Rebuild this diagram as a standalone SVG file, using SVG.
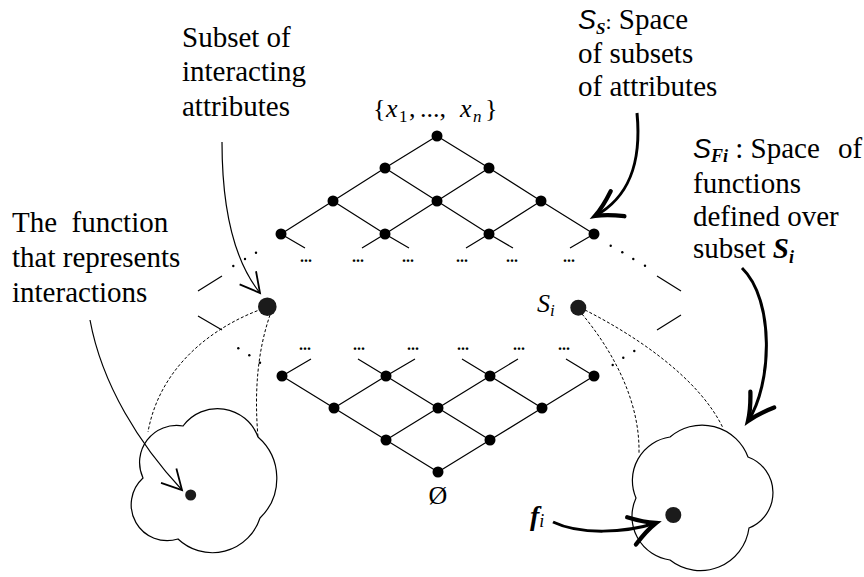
<svg xmlns="http://www.w3.org/2000/svg" width="864" height="577" viewBox="0 0 864 577">
<defs>
<style>
.t{fill:#000}
.L{font-size:29px}
.e{stroke:#000;stroke-width:1.2;fill:none}
.n{fill:#000}
.d{stroke:#000;stroke-width:1;fill:none;stroke-dasharray:3,2}
.thin{stroke:#000;stroke-width:1.2;fill:none}
.thick{stroke:#000;stroke-width:3;fill:none}
.cloud{stroke:#000;stroke-width:1.2;fill:#fff}
.dots{font-size:16px;font-weight:bold;text-anchor:middle}
</style>
<marker id="ah" markerUnits="userSpaceOnUse" markerWidth="30" markerHeight="30" refX="0" refY="0" viewBox="-16 -10 20 20" orient="auto" overflow="visible">
<path d="M-13,-7 L0,0 L-13,7" fill="none" stroke="#000" stroke-width="1.2"/>
</marker>
<marker id="ahb" markerUnits="userSpaceOnUse" markerWidth="40" markerHeight="40" refX="0" refY="0" viewBox="-22 -14 26 28" orient="auto" overflow="visible">
<path d="M-18,-10 Q-8,-3 0,0 Q-8,3 -18,10" fill="none" stroke="#000" stroke-width="3" stroke-linecap="round"/>
</marker>
</defs>

<g id="cloud-left"><path class="cloud" d="M183,426 A43,43 0 0,1 258,437 A55,55 0 0,1 260,518 A50,50 0 0,1 178,539 A36,36 0 0,1 143,478 A37,37 0 0,1 183,426 Z"/></g>
<g id="cloud-right"><path class="cloud" d="M670,437 A49,49 0 0,1 748,457 A38,38 0 0,1 749,528 A49,49 0 0,1 670,560 A44,44 0 0,1 636,498 A44,44 0 0,1 670,437 Z"/></g>

<g id="connectors">
<path class="e" d="M437,136 L385,168 L333,201 L281,234 M437,136 L489,168 L541,201 L594,234 M385,168 L437,201 L489,234 M489,168 L437,201 L385,234 M333,201 L385,234 M541,201 L489,234"/>
<path class="e" d="M281,234 L305,248 M385,234 L362,248 M385,234 L409,248 M489,234 L466,248 M489,234 L513,248 M594,234 L570,248"/>
<path class="e" d="M438,472 L386,440 L334,408 L282,376 M438,472 L490,440 L542,408 L594,376 M386,440 L438,408 L490,376 M490,440 L438,408 L386,376 M334,408 L386,376 M542,408 L490,376"/>
<path class="e" d="M282,376 L311,359 M386,376 L358,359 M386,376 L415,359 M490,376 L462,359 M490,376 L518,359 M594,376 L566,359"/>
<path class="e" d="M198,291 L222,276 M198,316 L222,330 M657,276 L681,291 M657,330 L681,315"/>
<path class="d" d="M262,309 C215,326 160,365 148,432"/>
<path class="d" d="M270,315 C258,350 254,390 258,437"/>
<path class="d" d="M585,310 C640,338 700,380 723,428"/>
<path class="d" d="M582,314 C612,350 640,400 639,453"/>
<path class="thin" d="M222,142 C222,205 232,258 260,293" marker-end="url(#ah)"/>
<path class="thin" d="M90,320 C102,385 140,445 182,490" marker-end="url(#ah)"/>
<path class="thick" d="M637,113 C642,165 628,198 595,216" marker-end="url(#ahb)"/>
<path class="thick" d="M742,268 C775,300 772,385 748,421" marker-end="url(#ahb)"/>
<path class="thick" d="M553,522 C580,535 625,533 656,523" marker-end="url(#ahb)"/>
</g>

<g id="dotted-boundary" fill="#000">
<circle cx="256" cy="252.7" r="1.2"/><circle cx="245" cy="259" r="1.2"/><circle cx="233.3" cy="266" r="1.2"/>
<circle cx="610.7" cy="245.7" r="1.2"/><circle cx="622.3" cy="252.3" r="1.2"/><circle cx="633.3" cy="259" r="1.2"/><circle cx="645" cy="265.7" r="1.2"/>
<circle cx="238.3" cy="348.3" r="1.2"/><circle cx="249.3" cy="355.3" r="1.2"/><circle cx="260" cy="362.7" r="1.2"/>
<circle cx="612.7" cy="365" r="1.2"/><circle cx="623.3" cy="357.7" r="1.2"/><circle cx="634.3" cy="351" r="1.2"/>
</g>

<g id="ellipsis" font-family="Liberation Serif, serif">
<text class="dots" x="306" y="262">...</text><text class="dots" x="358" y="262">...</text><text class="dots" x="408" y="262">...</text><text class="dots" x="462" y="262">...</text><text class="dots" x="512" y="262">...</text><text class="dots" x="569" y="262">...</text>
<text class="dots" x="305" y="350">...</text><text class="dots" x="359" y="350">...</text><text class="dots" x="413" y="350">...</text><text class="dots" x="463" y="350">...</text><text class="dots" x="519" y="350">...</text><text class="dots" x="564" y="350">...</text>
</g>

<g id="upper-lattice" class="n">
<circle cx="437" cy="136" r="5.5"/>
<circle cx="385" cy="168" r="5.5"/><circle cx="489" cy="168" r="5.5"/>
<circle cx="333" cy="201" r="5.5"/><circle cx="437" cy="201" r="5.5"/><circle cx="541" cy="201" r="5.5"/>
<circle cx="281" cy="234" r="5.5"/><circle cx="385" cy="234" r="5.5"/><circle cx="489" cy="234" r="5.5"/><circle cx="594" cy="234" r="5.5"/>
</g>
<g id="lower-lattice" class="n">
<circle cx="282" cy="376" r="5.5"/><circle cx="386" cy="376" r="5.5"/><circle cx="490" cy="376" r="5.5"/><circle cx="594" cy="376" r="5.5"/>
<circle cx="334" cy="408" r="5.5"/><circle cx="438" cy="408" r="5.5"/><circle cx="542" cy="408" r="5.5"/>
<circle cx="386" cy="440" r="5.5"/><circle cx="490" cy="440" r="5.5"/>
<circle cx="438" cy="472" r="5.5"/>
</g>
<g id="node-subset"><circle cx="267.3" cy="306.7" r="9.3" fill="#1b1b1b"/></g>
<g id="node-Si"><circle cx="578.3" cy="307.7" r="8" fill="#1b1b1b"/></g>
<g id="node-f-left"><circle cx="190.7" cy="495" r="5.5" fill="#1b1b1b"/></g>
<g id="node-fi"><circle cx="673.3" cy="515" r="8" fill="#1b1b1b"/></g>

<g id="labels" font-family="Liberation Serif, serif">
<text class="t L" x="182" y="47">Subset of</text>
<text class="t L" x="182" y="81">interacting</text>
<text class="t L" x="182" y="116">attributes</text>
<text class="t L" x="12" y="232" xml:space="preserve">The  function</text>
<text class="t L" x="12" y="267">that represents</text>
<text class="t L" x="12" y="302">interactions</text>
<text class="t L" x="578" y="29"><tspan font-family="Liberation Sans, sans-serif" font-style="italic" style="font-size:27px">S</tspan><tspan style="font-size:17px" font-weight="bold" font-style="italic" dy="5">S</tspan><tspan dy="-5" style="font-size:22px">:</tspan> Space</text>
<text class="t L" x="578" y="63">of subsets</text>
<text class="t L" x="578" y="96">of attributes</text>
<text class="t L" x="693" y="158"><tspan font-family="Liberation Sans, sans-serif" font-style="italic" style="font-size:27px">S</tspan><tspan style="font-size:18px" font-weight="bold" font-style="italic" dy="4">Fi</tspan><tspan dy="-4"> : Space</tspan><tspan x="838">of</tspan></text>
<text class="t L" x="693" y="193">functions</text>
<text class="t L" x="693" y="226">defined over</text>
<text class="t L" x="693" y="258">subset <tspan font-weight="bold" font-style="italic">S</tspan><tspan font-weight="bold" font-style="italic" style="font-size:18px" dy="5">i</tspan></text>
<text class="t" style="font-size:26px" y="117"><tspan x="373">{</tspan><tspan x="386" font-style="italic">x</tspan><tspan x="399" style="font-size:17px" dy="5">1</tspan><tspan x="409" dy="-5">,</tspan><tspan x="420">...,</tspan><tspan x="460" font-style="italic">x</tspan><tspan x="473" style="font-size:17px" font-style="italic" dy="5">n</tspan><tspan x="485" dy="-5">}</tspan></text>
<text class="t" style="font-size:26px" x="438" y="504" text-anchor="middle">Ø</text>
<text class="t" x="537" y="312" style="font-size:26px" font-style="italic">S<tspan style="font-size:17px" dy="4">i</tspan></text>
<text class="t" x="530" y="525" style="font-size:28px" font-style="italic" font-weight="bold">f<tspan style="font-size:18px" font-weight="normal" dy="2">i</tspan></text>
</g>
</svg>
